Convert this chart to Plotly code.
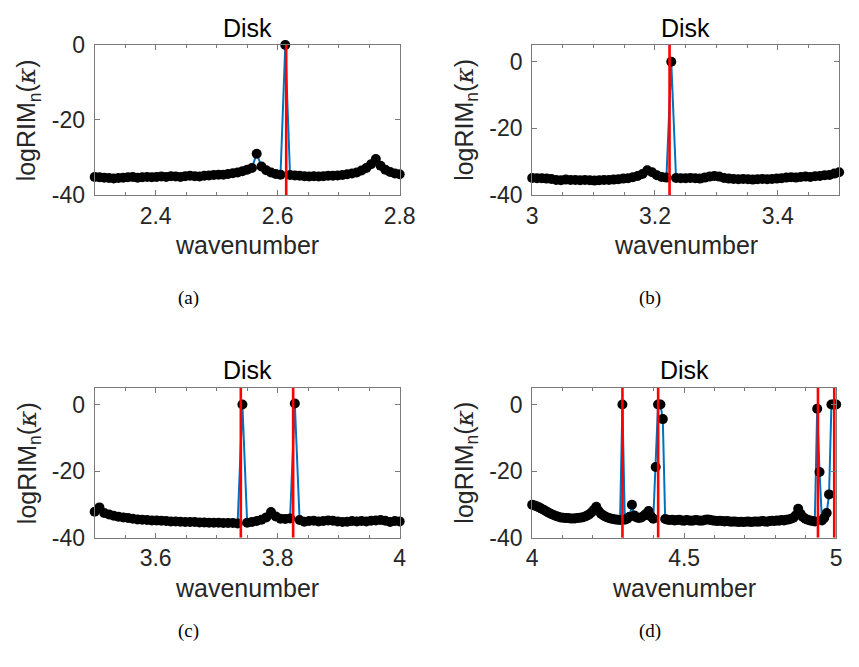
import numpy as np
import plotly.graph_objects as go

W, H = 859, 667

# ---------------- data ----------------
# (a) wavenumber scan 2.3 .. 2.8
k_lim_a = [2.3, 2.8]
rim_a = [
    -35.2, -35.3, -35.4, -35.5, -35.6, -35.5, -35.4, -35.3, -35.2, -35.4,
    -35.3, -35.2, -35.3, -35.2, -35.1, -35.2, -35.0, -35.1, -35.2, -35.0,
    -34.9, -35.0, -35.1, -34.9, -34.8, -34.7, -34.6, -34.6, -34.4, -34.2,
    -34.0, -33.7, -33.3, -32.8, -29.0, -32.4, -33.4, -34.0, -34.4, -34.6,
    0.0, -34.7, -34.8, -34.9, -35.0, -35.1, -35.0, -35.1, -35.0, -34.9,
    -34.9, -34.8, -34.7, -34.5, -34.3, -34.0, -33.5, -32.8, -31.8, -30.4,
    -32.2, -33.3, -33.9, -34.3, -34.5,
]
eig_a = [2.614]
ylim_a = [-40, 0]
xticks_a = [2.4, 2.6, 2.8]
xlabels_a = ["2.4", "2.6", "2.8"]

# (b) wavenumber scan 3.0 .. 3.5
k_lim_b = [3.0, 3.5]
rim_b = [
    -34.9, -35.0, -35.0, -35.1, -35.2, -35.5, -35.6, -35.4, -35.5, -35.5,
    -35.6, -35.5, -35.6, -35.7, -35.6, -35.5, -35.5, -35.4, -35.3, -35.1,
    -35.0, -34.7, -34.3, -33.7, -32.6, -33.2, -34.1, -34.6, -34.8, 0.0,
    -34.9, -35.0, -35.0, -34.9, -35.0, -35.1, -34.8, -34.5, -34.3, -34.5,
    -34.9, -35.1, -35.2, -35.3, -35.2, -35.3, -35.4, -35.3, -35.2, -35.3,
    -35.2, -35.1, -35.0, -34.8, -34.7, -34.8, -34.6, -34.5, -34.6, -34.4,
    -34.3, -34.1, -34.0, -33.6, -33.2,
]
eig_b = [3.2238]
ylim_b = [-40, 5]
xticks_b = [3.0, 3.2, 3.4]
xlabels_b = ["3", "3.2", "3.4"]

# (c) wavenumber scan 3.5 .. 4.0
k_lim_c = [3.5, 4.0]
rim_c = [
    -32.2, -30.9, -32.6, -33.0, -33.4, -33.7, -33.9, -34.1, -34.3, -34.5,
    -34.6, -34.7, -34.8, -34.8, -34.9, -35.0, -35.1, -35.1, -35.2, -35.3,
    -35.3, -35.3, -35.4, -35.4, -35.5, -35.5, -35.5, -35.6, -35.6, -35.6,
    -35.7, 0.0, -35.5, -35.3, -35.0, -34.6, -33.9, -32.3, -33.6, -34.3,
    -34.4, -34.2, 0.3, -34.7, -35.2, -35.0, -34.9, -35.1, -35.0, -34.8,
    -34.9, -35.1, -35.3, -35.2, -35.0, -35.1, -35.0, -35.1, -34.9, -34.8,
    -34.7, -34.9, -35.3, -35.0, -35.1,
]
eig_c = [3.7396, 3.8254]
ylim_c = [-40, 5]
xticks_c = [3.6, 3.8, 4.0]
xlabels_c = ["3.6", "3.8", "4"]

# (d) wavenumber scan 4.0 .. 5.0
k_lim_d = [4.0, 5.0]
rim_d = [
    -30.1, -30.3, -30.6, -30.9, -31.3, -31.7, -32.1, -32.5, -32.9, -33.2,
    -33.5, -33.7, -33.9, -34.0, -34.1, -34.1, -34.2, -34.2, -34.2, -34.1,
    -34.0, -33.9, -33.7, -33.4, -33.0, -32.4, -31.6, -30.7, -32.0, -32.8,
    -33.3, -33.7, -34.0, -34.2, -34.4, -34.5, -34.6, -34.7, 0.0, -34.6,
    -34.3, -33.7, -30.1, -33.3, -33.9, -34.1, -33.9, -33.4, -32.8, -32.0,
    -33.6, -34.3, -18.8, 0.0, 0.0, -4.4, -34.4, -34.6, -34.7, -34.6,
    -34.8, -34.7, -34.6, -34.8, -34.9, -34.7, -34.8, -34.9, -34.8, -34.7,
    -34.8, -34.9, -34.8, -34.6, -34.5, -34.7, -34.8, -34.9, -35.0, -34.9,
    -35.0, -35.1, -35.0, -35.1, -35.2, -35.1, -35.2, -35.3, -35.2, -35.3,
    -35.2, -35.1, -35.3, -35.2, -35.1, -35.2, -35.1, -35.0, -35.1, -35.2,
    -35.0, -34.9, -35.0, -34.8, -34.9, -34.7, -34.8, -34.6, -34.5, -34.3,
    -34.0, -33.3, -31.3, -32.8, -33.8, -34.3, -34.6, -34.8, -35.0, -35.1,
    -1.3, -20.3, -34.8, -34.0, -32.6, -27.0, 0.0, 0.0, 0.0,
]
eig_d = [4.297, 4.4144, 4.9401, 4.9936]
ylim_d = [-40, 5]
xticks_d = [4.0, 4.5, 5.0]
xlabels_d = ["4", "4.5", "5"]

yticks = [-40, -20, 0]
ylabels = ["-40", "-20", "0"]

# ---------------- styling ----------------
BLUE = "#0072BD"
RED = "#FF0000"
FRAME = "#7a7a7a"
TXT = "#262626"
SANS = "Liberation Sans, Arial, sans-serif"
SERIF = "Liberation Serif, DejaVu Serif, serif"

# panel rectangles in pixels: (left, right, top, bottom) and caption centre
panels = [
    dict(k_lim=k_lim_a, rim=rim_a, eig=eig_a, ylim=ylim_a, xt=xticks_a, xl=xlabels_a,
         minor=0.05, rect=(91, 404, 33.3, 189.3), cap="(a)", cap_xy=(187, 297)),
    dict(k_lim=k_lim_b, rim=rim_b, eig=eig_b, ylim=ylim_b, xt=xticks_b, xl=xlabels_b,
         minor=0.05, rect=(540, 855, 33.3, 189.3), cap="(b)", cap_xy=(661, 297)),
    dict(k_lim=k_lim_c, rim=rim_c, eig=eig_c, ylim=ylim_c, xt=xticks_c, xl=xlabels_c,
         minor=0.05, rect=(91, 404, 390, 546), cap="(c)", cap_xy=(187, 643)),
    dict(k_lim=k_lim_d, rim=rim_d, eig=eig_d, ylim=ylim_d, xt=xticks_d, xl=xlabels_d,
         minor=0.1, rect=(540, 852, 390, 546), cap="(d)", cap_xy=(661, 643)),
]


def fx(x):
    return x / W


def fy(y):
    return 1 - y / H


fig = go.Figure()
annotations = []

for n, p in enumerate(panels, start=1):
    sx = "" if n == 1 else str(n)
    xa, ya = "x" + sx, "y" + sx
    k = np.linspace(p["k_lim"][0], p["k_lim"][1], len(p["rim"]))

    fig.add_trace(go.Scatter(
        x=k, y=p["rim"], mode="lines+markers", xaxis=xa, yaxis=ya,
        line=dict(color=BLUE, width=2),
        marker=dict(color="black", size=10, line=dict(width=0)),
        cliponaxis=False, showlegend=False, hoverinfo="skip",
    ))
    for e in p["eig"]:
        fig.add_trace(go.Scatter(
            x=[e, e], y=p["ylim"], mode="lines", xaxis=xa, yaxis=ya,
            line=dict(color=RED, width=2.6), showlegend=False, hoverinfo="skip",
        ))

    left, right, top, bottom = p["rect"]
    minor_vals = np.arange(p["k_lim"][0], p["k_lim"][1] + 1e-9, p["minor"])
    fig.layout["xaxis" + sx] = dict(
        domain=[fx(left), fx(right)], anchor=ya, range=p["k_lim"],
        tickmode="array", tickvals=p["xt"], ticktext=p["xl"],
        ticks="inside", ticklen=5, tickwidth=1, tickcolor=FRAME,
        minor=dict(tickmode="array", tickvals=minor_vals, ticks="inside",
                   ticklen=3, tickwidth=1, tickcolor=FRAME),
        showline=True, linecolor=FRAME, linewidth=1, mirror="allticks",
        showgrid=False, zeroline=False,
        tickfont=dict(family=SANS, size=23, color=TXT),
    )
    fig.layout["yaxis" + sx] = dict(
        domain=[fy(bottom), fy(top)], anchor=xa, range=p["ylim"],
        tickmode="array", tickvals=yticks, ticktext=ylabels,
        ticks="inside", ticklen=5, tickwidth=1, tickcolor=FRAME,
        showline=True, linecolor=FRAME, linewidth=1, mirror="allticks",
        showgrid=False, zeroline=False, ticklabelstandoff=4,
        tickfont=dict(family=SANS, size=23, color=TXT),
    )

    cx = (left + right) / 2
    # panel title
    annotations.append(dict(
        text="Disk", x=fx(cx), y=fy(top - 18), xref="paper", yref="paper",
        xanchor="center", yanchor="middle", showarrow=False,
        font=dict(family=SANS, size=25, color="black"),
    ))
    # x-axis label
    annotations.append(dict(
        text="wavenumber", x=fx(cx), y=fy(bottom + 52), xref="paper", yref="paper",
        xanchor="center", yanchor="middle", showarrow=False,
        font=dict(family=SANS, size=25, color=TXT),
    ))
    # y-axis label
    annotations.append(dict(
        text="logRIM<sub>n</sub>(<span style=\"font-family:'DejaVu Serif'\"><i>κ</i></span>)",
        x=fx(left - 68), y=fy((top + bottom) / 2), xref="paper", yref="paper",
        xanchor="center", yanchor="middle", textangle=-90, showarrow=False,
        font=dict(family=SANS, size=25, color=TXT),
    ))
    # sub-figure caption
    cxp, cyp = p["cap_xy"]
    annotations.append(dict(
        text=p["cap"], x=fx(cxp), y=fy(cyp), xref="paper", yref="paper",
        xanchor="center", yanchor="middle", showarrow=False,
        font=dict(family=SERIF, size=19, color="black"),
    ))

fig.update_layout(
    width=W, height=H, margin=dict(l=0, r=0, t=0, b=0),
    paper_bgcolor="white", plot_bgcolor="white",
    annotations=annotations, showlegend=False,
)

fig.write_html("out.html")
